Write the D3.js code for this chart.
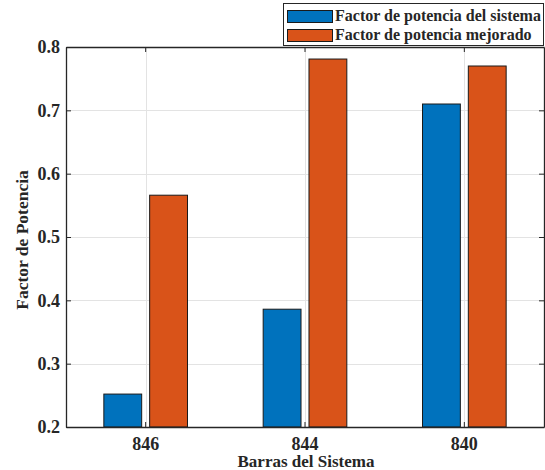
<!DOCTYPE html>
<html>
<head>
<meta charset="utf-8">
<script src="https://cdn.jsdelivr.net/npm/d3@7"></script>
<style>
  html, body { margin: 0; padding: 0; background: #fff; }
  svg { display: block; }
  text { font-family: "Liberation Serif", "Times New Roman", serif; font-weight: bold; fill: #262626; }
</style>
</head>
<body>
<svg id="chart" width="545" height="470"></svg>
<script>
// Bus labels along the x axis
const categories = ["846", "844", "840"];
// Power factor per bus
const seriesNames = ["Factor de potencia del sistema", "Factor de potencia mejorado"];
const systemPF = [0.252, 0.386, 0.710];
const improvedPF = [0.566, 0.781, 0.770];
const yTicks = [0.2, 0.3, 0.4, 0.5, 0.6, 0.7, 0.8];
const yTickLabels = ["0.2", "0.3", "0.4", "0.5", "0.6", "0.7", "0.8"];
const colors = ["#0072BD", "#D95319"];

const svg = d3.select("#chart");
const m = { left: 66, right: 544, top: 47, bottom: 427 };

const x0 = d3.scaleBand()
  .domain(categories)
  .range([m.left, m.right])
  .paddingInner(0.475)
  .paddingOuter(0.2375);

const x1 = d3.scaleBand()
  .domain([0, 1])
  .range([0, x0.bandwidth()])
  .paddingInner(0.174)
  .paddingOuter(0);

const y = d3.scaleLinear().domain([0.2, 0.8]).range([m.bottom, m.top]);

const series = [systemPF, improvedPF];
const center = c => x0(c) + x0.bandwidth() / 2;

// grid
const grid = svg.append("g").attr("stroke", "#e3e3e3").attr("stroke-width", 1);
grid.selectAll("line.h").data(yTicks.slice(1, -1)).enter().append("line")
  .attr("x1", m.left).attr("x2", m.right)
  .attr("y1", d => Math.round(y(d)) + 0.5).attr("y2", d => Math.round(y(d)) + 0.5);
grid.selectAll("line.v").data(categories).enter().append("line")
  .attr("y1", m.top).attr("y2", m.bottom)
  .attr("x1", d => Math.round(center(d)) + 0.5).attr("x2", d => Math.round(center(d)) + 0.5);

// bars
categories.forEach((c, i) => {
  series.forEach((s, k) => {
    svg.append("rect")
      .attr("x", x0(c) + x1(k))
      .attr("y", y(s[i]))
      .attr("width", x1.bandwidth())
      .attr("height", y(0.2) - y(s[i]))
      .attr("fill", colors[k])
      .attr("stroke", "#1a1a1a")
      .attr("stroke-width", 1);
  });
});

// axes (ticks drawn inward)
const axColor = "#262626";
const yAxis = svg.append("g").attr("transform", `translate(${m.left},0)`)
  .call(d3.axisLeft(y).tickValues(yTicks).tickFormat((d, i) => yTickLabels[i]).tickSizeInner(-5).tickSizeOuter(0).tickPadding(6));
const yAxisR = svg.append("g").attr("transform", `translate(${m.right},0)`)
  .call(d3.axisRight(y).tickValues(yTicks).tickFormat("").tickSizeInner(-5).tickSizeOuter(0));
const xAxis = svg.append("g").attr("transform", `translate(0,${m.bottom})`)
  .call(d3.axisBottom(x0).tickSizeInner(-5).tickSizeOuter(0).tickPadding(10));
const xAxisT = svg.append("g").attr("transform", `translate(0,${m.top})`)
  .call(d3.axisTop(x0).tickFormat("").tickSizeInner(-5).tickSizeOuter(0));

[yAxis, yAxisR, xAxis, xAxisT].forEach(g => {
  g.selectAll("path.domain").attr("stroke", axColor).attr("stroke-width", 1.3);
  g.selectAll(".tick line").attr("stroke", axColor).attr("stroke-width", 1);
  g.selectAll("text").attr("font-family", '"Liberation Serif", serif')
    .attr("font-weight", "bold").attr("font-size", 18).attr("fill", axColor);
});

// axis titles
svg.append("text")
  .attr("x", (m.left + m.right) / 2 + 1).attr("y", 467)
  .attr("text-anchor", "middle").attr("font-size", 17)
  .text("Barras del Sistema");

svg.append("text")
  .attr("transform", `translate(28,240) rotate(-90)`)
  .attr("text-anchor", "middle").attr("font-size", 17.5)
  .text("Factor de Potencia");

// legend
const lg = svg.append("g");
lg.append("rect").attr("x", 283.5).attr("y", 3.5).attr("width", 260).attr("height", 42)
  .attr("fill", "#fff").attr("stroke", axColor).attr("stroke-width", 1);
seriesNames.forEach((name, k) => {
  const yy = 10 + k * 19;
  lg.append("rect").attr("x", 287.5).attr("y", yy + 0.5).attr("width", 45).attr("height", 12)
    .attr("fill", colors[k]).attr("stroke", "#1a1a1a").attr("stroke-width", 1);
  lg.append("text").attr("x", 335).attr("y", yy + 11).attr("font-size", 16).text(name);
});
</script>
</body>
</html>
